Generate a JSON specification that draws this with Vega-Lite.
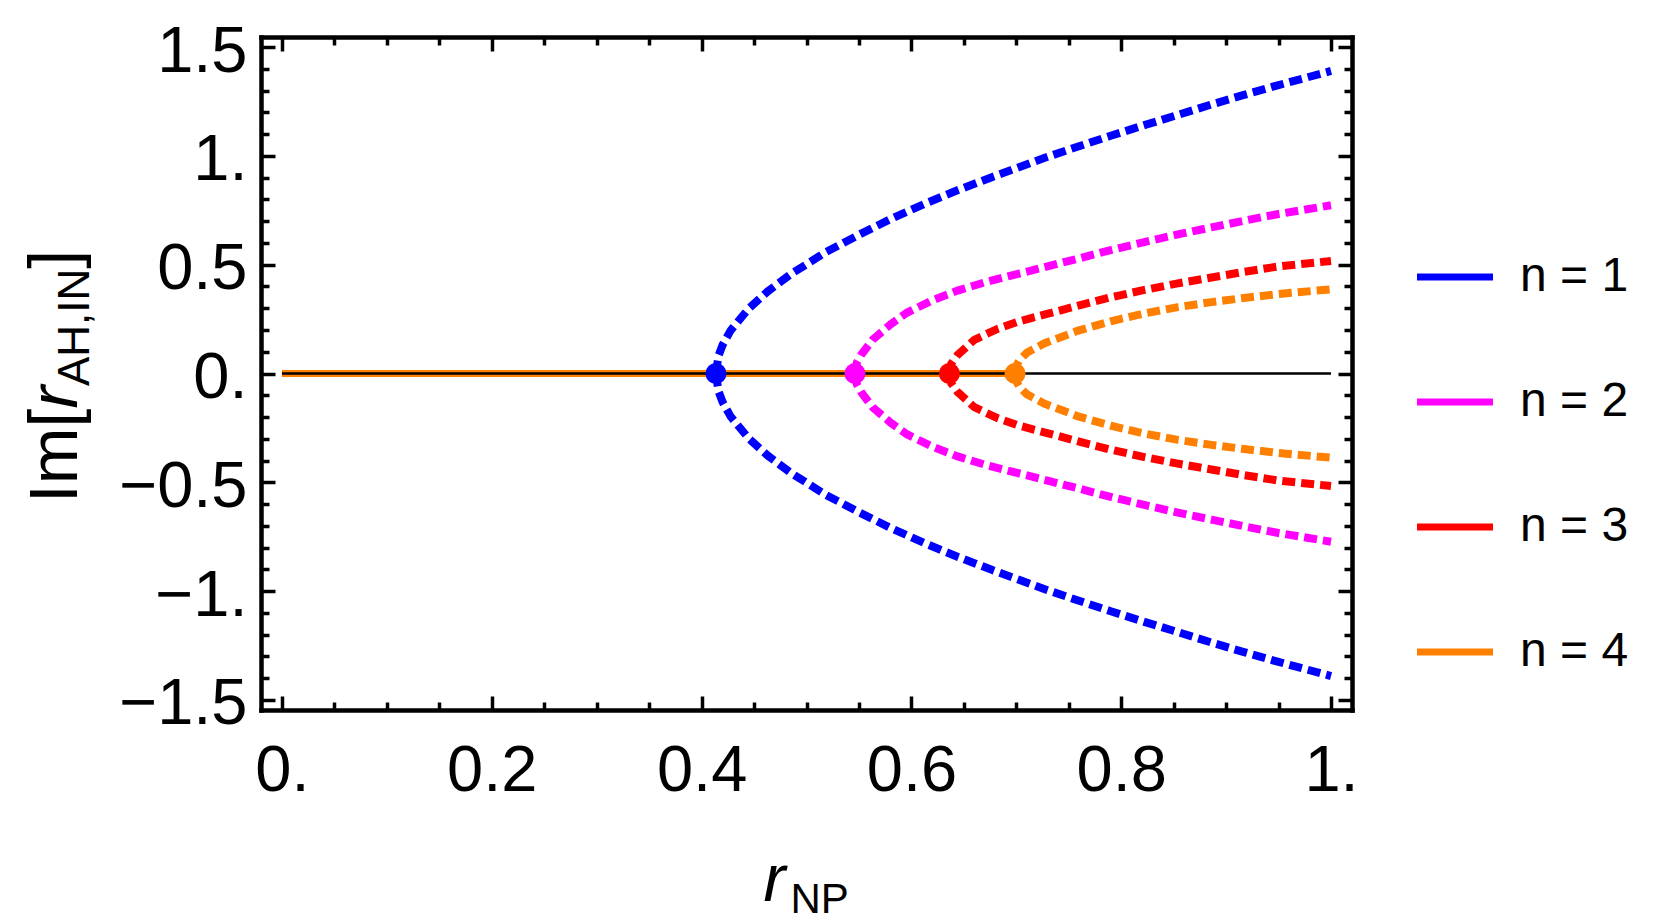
{
  "$schema": "https://vega.github.io/schema/vega-lite/v6.json",
  "width": 1091,
  "height": 673,
  "autosize": {"type": "none"},
  "padding": {"left": 261, "top": 37, "right": 309, "bottom": 212},
  "background": "white",
  "config": {
    "view": {"stroke": null},
    "font": "Liberation Sans",
    "axis": {
      "grid": false,
      "domainColor": "black",
      "domainWidth": 4.5,
      "domainCap": "square",
      "tickColor": "black",
      "tickWidth": 3.5,
      "labelColor": "black",
      "titleColor": "black",
      "labelFont": "Liberation Sans",
      "titleFont": "Liberation Sans",
      "titleFontWeight": "normal",
      "labelOverlap": false,
      "labelFlush": false,
      "labelBound": false
    },
    "legend": {
      "orient": "none",
      "legendX": 1152.5,
      "legendY": 198.5,
      "padding": 0,
      "symbolType": "stroke",
      "symbolSize": 5776,
      "symbolStrokeWidth": 7,
      "symbolDash": [],
      "symbolOpacity": 1,
      "labelFont": "Liberation Sans",
      "labelFontSize": 48,
      "labelColor": "black",
      "labelOffset": 23.5,
      "rowPadding": 59
    }
  },
  "datasets": {
    "curves": [
      {"n": "n = 1", "b": "u", "x": 0.4137, "y": 0},
      {"n": "n = 1", "b": "u", "x": 0.416, "y": 0.08},
      {"n": "n = 1", "b": "u", "x": 0.42, "y": 0.131},
      {"n": "n = 1", "b": "u", "x": 0.4277, "y": 0.198},
      {"n": "n = 1", "b": "u", "x": 0.4449, "y": 0.298},
      {"n": "n = 1", "b": "u", "x": 0.463, "y": 0.377},
      {"n": "n = 1", "b": "u", "x": 0.485, "y": 0.456},
      {"n": "n = 1", "b": "u", "x": 0.5174, "y": 0.555},
      {"n": "n = 1", "b": "u", "x": 0.5499, "y": 0.637},
      {"n": "n = 1", "b": "u", "x": 0.5804, "y": 0.71},
      {"n": "n = 1", "b": "u", "x": 0.612, "y": 0.778},
      {"n": "n = 1", "b": "u", "x": 0.6444, "y": 0.843},
      {"n": "n = 1", "b": "u", "x": 0.676, "y": 0.901},
      {"n": "n = 1", "b": "u", "x": 0.7265, "y": 0.99},
      {"n": "n = 1", "b": "u", "x": 0.759, "y": 1.043},
      {"n": "n = 1", "b": "u", "x": 0.79, "y": 1.092},
      {"n": "n = 1", "b": "u", "x": 0.822, "y": 1.141},
      {"n": "n = 1", "b": "u", "x": 0.854, "y": 1.188},
      {"n": "n = 1", "b": "u", "x": 0.886, "y": 1.236},
      {"n": "n = 1", "b": "u", "x": 0.917, "y": 1.28},
      {"n": "n = 1", "b": "u", "x": 0.95, "y": 1.325},
      {"n": "n = 1", "b": "u", "x": 1.0, "y": 1.39},
      {"n": "n = 1", "b": "l", "x": 0.4137, "y": 0},
      {"n": "n = 1", "b": "l", "x": 0.416, "y": -0.08},
      {"n": "n = 1", "b": "l", "x": 0.42, "y": -0.131},
      {"n": "n = 1", "b": "l", "x": 0.4277, "y": -0.198},
      {"n": "n = 1", "b": "l", "x": 0.4449, "y": -0.298},
      {"n": "n = 1", "b": "l", "x": 0.463, "y": -0.377},
      {"n": "n = 1", "b": "l", "x": 0.485, "y": -0.456},
      {"n": "n = 1", "b": "l", "x": 0.5174, "y": -0.555},
      {"n": "n = 1", "b": "l", "x": 0.5499, "y": -0.637},
      {"n": "n = 1", "b": "l", "x": 0.5804, "y": -0.71},
      {"n": "n = 1", "b": "l", "x": 0.612, "y": -0.778},
      {"n": "n = 1", "b": "l", "x": 0.6444, "y": -0.843},
      {"n": "n = 1", "b": "l", "x": 0.676, "y": -0.901},
      {"n": "n = 1", "b": "l", "x": 0.7265, "y": -0.99},
      {"n": "n = 1", "b": "l", "x": 0.759, "y": -1.043},
      {"n": "n = 1", "b": "l", "x": 0.79, "y": -1.092},
      {"n": "n = 1", "b": "l", "x": 0.822, "y": -1.141},
      {"n": "n = 1", "b": "l", "x": 0.854, "y": -1.188},
      {"n": "n = 1", "b": "l", "x": 0.886, "y": -1.236},
      {"n": "n = 1", "b": "l", "x": 0.917, "y": -1.28},
      {"n": "n = 1", "b": "l", "x": 0.95, "y": -1.325},
      {"n": "n = 1", "b": "l", "x": 1.0, "y": -1.39},
      {"n": "n = 2", "b": "u", "x": 0.5462, "y": 0},
      {"n": "n = 2", "b": "u", "x": 0.548, "y": 0.05},
      {"n": "n = 2", "b": "u", "x": 0.552, "y": 0.085},
      {"n": "n = 2", "b": "u", "x": 0.563, "y": 0.155},
      {"n": "n = 2", "b": "u", "x": 0.58, "y": 0.225},
      {"n": "n = 2", "b": "u", "x": 0.596, "y": 0.28},
      {"n": "n = 2", "b": "u", "x": 0.619, "y": 0.334},
      {"n": "n = 2", "b": "u", "x": 0.644, "y": 0.381},
      {"n": "n = 2", "b": "u", "x": 0.67, "y": 0.419},
      {"n": "n = 2", "b": "u", "x": 0.695, "y": 0.45},
      {"n": "n = 2", "b": "u", "x": 0.7265, "y": 0.488},
      {"n": "n = 2", "b": "u", "x": 0.759, "y": 0.528},
      {"n": "n = 2", "b": "u", "x": 0.79, "y": 0.567},
      {"n": "n = 2", "b": "u", "x": 0.822, "y": 0.604},
      {"n": "n = 2", "b": "u", "x": 0.854, "y": 0.639},
      {"n": "n = 2", "b": "u", "x": 0.886, "y": 0.671},
      {"n": "n = 2", "b": "u", "x": 0.917, "y": 0.702},
      {"n": "n = 2", "b": "u", "x": 0.95, "y": 0.733},
      {"n": "n = 2", "b": "u", "x": 1.0, "y": 0.773},
      {"n": "n = 2", "b": "l", "x": 0.5462, "y": 0},
      {"n": "n = 2", "b": "l", "x": 0.548, "y": -0.05},
      {"n": "n = 2", "b": "l", "x": 0.552, "y": -0.085},
      {"n": "n = 2", "b": "l", "x": 0.563, "y": -0.155},
      {"n": "n = 2", "b": "l", "x": 0.58, "y": -0.225},
      {"n": "n = 2", "b": "l", "x": 0.596, "y": -0.28},
      {"n": "n = 2", "b": "l", "x": 0.619, "y": -0.334},
      {"n": "n = 2", "b": "l", "x": 0.644, "y": -0.381},
      {"n": "n = 2", "b": "l", "x": 0.67, "y": -0.419},
      {"n": "n = 2", "b": "l", "x": 0.695, "y": -0.45},
      {"n": "n = 2", "b": "l", "x": 0.7265, "y": -0.488},
      {"n": "n = 2", "b": "l", "x": 0.759, "y": -0.528},
      {"n": "n = 2", "b": "l", "x": 0.79, "y": -0.567},
      {"n": "n = 2", "b": "l", "x": 0.822, "y": -0.604},
      {"n": "n = 2", "b": "l", "x": 0.854, "y": -0.639},
      {"n": "n = 2", "b": "l", "x": 0.886, "y": -0.671},
      {"n": "n = 2", "b": "l", "x": 0.917, "y": -0.702},
      {"n": "n = 2", "b": "l", "x": 0.95, "y": -0.733},
      {"n": "n = 2", "b": "l", "x": 1.0, "y": -0.773},
      {"n": "n = 3", "b": "u", "x": 0.6362, "y": 0},
      {"n": "n = 3", "b": "u", "x": 0.638, "y": 0.045},
      {"n": "n = 3", "b": "u", "x": 0.644, "y": 0.085},
      {"n": "n = 3", "b": "u", "x": 0.66, "y": 0.155},
      {"n": "n = 3", "b": "u", "x": 0.682, "y": 0.205},
      {"n": "n = 3", "b": "u", "x": 0.703, "y": 0.24},
      {"n": "n = 3", "b": "u", "x": 0.7265, "y": 0.27},
      {"n": "n = 3", "b": "u", "x": 0.759, "y": 0.312},
      {"n": "n = 3", "b": "u", "x": 0.79, "y": 0.35},
      {"n": "n = 3", "b": "u", "x": 0.822, "y": 0.384},
      {"n": "n = 3", "b": "u", "x": 0.854, "y": 0.414},
      {"n": "n = 3", "b": "u", "x": 0.886, "y": 0.441},
      {"n": "n = 3", "b": "u", "x": 0.917, "y": 0.467},
      {"n": "n = 3", "b": "u", "x": 0.95, "y": 0.492},
      {"n": "n = 3", "b": "u", "x": 1.0, "y": 0.517},
      {"n": "n = 3", "b": "l", "x": 0.6362, "y": 0},
      {"n": "n = 3", "b": "l", "x": 0.638, "y": -0.045},
      {"n": "n = 3", "b": "l", "x": 0.644, "y": -0.085},
      {"n": "n = 3", "b": "l", "x": 0.66, "y": -0.155},
      {"n": "n = 3", "b": "l", "x": 0.682, "y": -0.205},
      {"n": "n = 3", "b": "l", "x": 0.703, "y": -0.24},
      {"n": "n = 3", "b": "l", "x": 0.7265, "y": -0.27},
      {"n": "n = 3", "b": "l", "x": 0.759, "y": -0.312},
      {"n": "n = 3", "b": "l", "x": 0.79, "y": -0.35},
      {"n": "n = 3", "b": "l", "x": 0.822, "y": -0.384},
      {"n": "n = 3", "b": "l", "x": 0.854, "y": -0.414},
      {"n": "n = 3", "b": "l", "x": 0.886, "y": -0.441},
      {"n": "n = 3", "b": "l", "x": 0.917, "y": -0.467},
      {"n": "n = 3", "b": "l", "x": 0.95, "y": -0.492},
      {"n": "n = 3", "b": "l", "x": 1.0, "y": -0.517},
      {"n": "n = 4", "b": "u", "x": 0.6988, "y": 0},
      {"n": "n = 4", "b": "u", "x": 0.7005, "y": 0.04},
      {"n": "n = 4", "b": "u", "x": 0.703, "y": 0.062},
      {"n": "n = 4", "b": "u", "x": 0.71, "y": 0.095},
      {"n": "n = 4", "b": "u", "x": 0.7265, "y": 0.138},
      {"n": "n = 4", "b": "u", "x": 0.759, "y": 0.197},
      {"n": "n = 4", "b": "u", "x": 0.79, "y": 0.24},
      {"n": "n = 4", "b": "u", "x": 0.822, "y": 0.276},
      {"n": "n = 4", "b": "u", "x": 0.854, "y": 0.305},
      {"n": "n = 4", "b": "u", "x": 0.886, "y": 0.328},
      {"n": "n = 4", "b": "u", "x": 0.917, "y": 0.347},
      {"n": "n = 4", "b": "u", "x": 0.95, "y": 0.365},
      {"n": "n = 4", "b": "u", "x": 1.0, "y": 0.387},
      {"n": "n = 4", "b": "l", "x": 0.6988, "y": 0},
      {"n": "n = 4", "b": "l", "x": 0.7005, "y": -0.04},
      {"n": "n = 4", "b": "l", "x": 0.703, "y": -0.062},
      {"n": "n = 4", "b": "l", "x": 0.71, "y": -0.095},
      {"n": "n = 4", "b": "l", "x": 0.7265, "y": -0.138},
      {"n": "n = 4", "b": "l", "x": 0.759, "y": -0.197},
      {"n": "n = 4", "b": "l", "x": 0.79, "y": -0.24},
      {"n": "n = 4", "b": "l", "x": 0.822, "y": -0.276},
      {"n": "n = 4", "b": "l", "x": 0.854, "y": -0.305},
      {"n": "n = 4", "b": "l", "x": 0.886, "y": -0.328},
      {"n": "n = 4", "b": "l", "x": 0.917, "y": -0.347},
      {"n": "n = 4", "b": "l", "x": 0.95, "y": -0.365},
      {"n": "n = 4", "b": "l", "x": 1.0, "y": -0.387}
    ],
    "solid": [
      {"n": "n = 1", "x": 0, "y": 0},
      {"n": "n = 1", "x": 0.4137, "y": 0},
      {"n": "n = 2", "x": 0, "y": 0},
      {"n": "n = 2", "x": 0.5462, "y": 0},
      {"n": "n = 3", "x": 0, "y": 0},
      {"n": "n = 3", "x": 0.6362, "y": 0},
      {"n": "n = 4", "x": 0, "y": 0},
      {"n": "n = 4", "x": 0.6988, "y": 0}
    ],
    "zero": [
      {"x": 0, "y": 0},
      {"x": 1, "y": 0}
    ],
    "points": [
      {"n": "n = 1", "x": 0.4137, "y": 0},
      {"n": "n = 2", "x": 0.5462, "y": 0},
      {"n": "n = 3", "x": 0.6362, "y": 0},
      {"n": "n = 4", "x": 0.6988, "y": 0}
    ]
  },
  "resolve": {"axis": {"x": "independent", "y": "independent"}},
  "layer": [
    {
      "data": {"name": "curves"},
      "mark": {"type": "line", "strokeWidth": 8, "strokeDash": [13, 6], "strokeCap": "butt"},
      "encoding": {
        "x": {
          "field": "x", "type": "quantitative",
          "scale": {"domain": [-0.02, 1.02], "nice": false, "zero": false},
          "axis": {
            "orient": "bottom",
            "values": [0, 0.05, 0.1, 0.15, 0.2, 0.25, 0.3, 0.35, 0.4, 0.45, 0.5, 0.55, 0.6, 0.65, 0.7, 0.75, 0.8, 0.85, 0.9, 0.95, 1],
            "labelExpr": "abs(datum.value*5-round(datum.value*5))>0.001 ? '' : (abs(datum.value-round(datum.value))<0.001 ? format(datum.value,'.0f')+'.' : format(datum.value,'.1f'))",
            "labelFontSize": 65,
            "labelAlign": "center",
            "labelBaseline": "alphabetic",
            "labelPadding": 94,
            "tickSize": {"condition": {"test": "abs(datum.value*5-round(datum.value*5))<0.001", "value": -14}, "value": -8},
            "title": "r",
            "titleFontStyle": "italic",
            "titleFontSize": 66,
            "titleAngle": 0,
            "titleAlign": "left",
            "titleBaseline": "alphabetic",
            "titleX": 502,
            "titleY": 190
          }
        },
        "y": {
          "field": "y", "type": "quantitative",
          "scale": {"domain": [-1.546, 1.546], "nice": false, "zero": false},
          "axis": {
            "orient": "left",
            "values": [-1.5, -1.4, -1.3, -1.2, -1.1, -1, -0.9, -0.8, -0.7, -0.6, -0.5, -0.4, -0.3, -0.2, -0.1, 0, 0.1, 0.2, 0.3, 0.4, 0.5, 0.6, 0.7, 0.8, 0.9, 1, 1.1, 1.2, 1.3, 1.4, 1.5],
            "labelExpr": "abs(datum.value*2-round(datum.value*2))>0.001 ? '' : (abs(datum.value-round(datum.value))<0.001 ? format(datum.value,'.0f')+'.' : format(datum.value,'.1f'))",
            "labelFontSize": 65,
            "labelAlign": "right",
            "labelBaseline": "middle",
            "labelPadding": 28,
            "labelOffset": 4,
            "tickSize": {"condition": {"test": "abs(datum.value*2-round(datum.value*2))<0.001", "value": -14}, "value": -8},
            "title": "Im[",
            "titleFontSize": 68,
            "titleAngle": 270,
            "titleAlign": "left",
            "titleBaseline": "alphabetic",
            "titleX": -185,
            "titleY": 465.6
          }
        },
        "color": {
          "field": "n", "type": "nominal",
          "scale": {"domain": ["n = 1", "n = 2", "n = 3", "n = 4"], "range": ["#0000ff", "#ff00ff", "#ff0000", "#ff8000"]},
          "legend": {"title": null, "symbolType": "stroke", "symbolDash": [], "symbolStrokeWidth": 7}
        },
        "detail": {"field": "b", "type": "nominal"}
      }
    },
    {
      "data": {"name": "solid"},
      "mark": {"type": "line", "strokeWidth": 7},
      "encoding": {
        "x": {
          "field": "x", "type": "quantitative",
          "scale": {"domain": [-0.02, 1.02], "nice": false, "zero": false},
          "axis": {
            "orient": "top",
            "values": [0, 0.05, 0.1, 0.15, 0.2, 0.25, 0.3, 0.35, 0.4, 0.45, 0.5, 0.55, 0.6, 0.65, 0.7, 0.75, 0.8, 0.85, 0.9, 0.95, 1],
            "labels": false,
            "tickSize": {"condition": {"test": "abs(datum.value*5-round(datum.value*5))<0.001", "value": -14}, "value": -8},
            "title": "NP",
            "titleFontSize": 42,
            "titleAngle": 0,
            "titleAlign": "left",
            "titleBaseline": "alphabetic",
            "titleX": 529,
            "titleY": 875
          }
        },
        "y": {
          "field": "y", "type": "quantitative",
          "scale": {"domain": [-1.546, 1.546], "nice": false, "zero": false},
          "axis": {
            "orient": "right",
            "values": [-1.5, -1.4, -1.3, -1.2, -1.1, -1, -0.9, -0.8, -0.7, -0.6, -0.5, -0.4, -0.3, -0.2, -0.1, 0, 0.1, 0.2, 0.3, 0.4, 0.5, 0.6, 0.7, 0.8, 0.9, 1, 1.1, 1.2, 1.3, 1.4, 1.5],
            "labels": false,
            "tickSize": {"condition": {"test": "abs(datum.value*2-round(datum.value*2))<0.001", "value": -14}, "value": -8},
            "title": "r",
            "titleFontStyle": "italic",
            "titleFontSize": 68,
            "titleAngle": 270,
            "titleAlign": "left",
            "titleBaseline": "alphabetic",
            "titleX": -1276,
            "titleY": 371
          }
        },
        "color": {
          "field": "n", "type": "nominal",
          "scale": {"domain": ["n = 1", "n = 2", "n = 3", "n = 4"], "range": ["#0000ff", "#ff00ff", "#ff0000", "#ff8000"]},
          "legend": {"title": null, "symbolType": "stroke", "symbolDash": [], "symbolStrokeWidth": 7}
        }
      }
    },
    {
      "data": {"name": "zero"},
      "mark": {"type": "line", "strokeWidth": 2.5, "color": "black"},
      "encoding": {
        "x": {
          "field": "x", "type": "quantitative",
          "scale": {"domain": [-0.02, 1.02], "nice": false, "zero": false},
          "axis": null
        },
        "y": {
          "field": "y", "type": "quantitative",
          "scale": {"domain": [-1.546, 1.546], "nice": false, "zero": false},
          "axis": {
            "orient": "left",
            "domain": false,
            "ticks": false,
            "labels": false,
            "title": "AH,IN",
            "titleFontSize": 44,
            "titleAngle": 270,
            "titleAlign": "left",
            "titleBaseline": "alphabetic",
            "titleX": -173,
            "titleY": 348.5
          }
        }
      }
    },
    {
      "data": {"name": "points"},
      "mark": {"type": "point", "shape": "circle", "filled": true, "size": 441, "opacity": 1},
      "encoding": {
        "x": {
          "field": "x", "type": "quantitative",
          "scale": {"domain": [-0.02, 1.02], "nice": false, "zero": false},
          "axis": null
        },
        "y": {
          "field": "y", "type": "quantitative",
          "scale": {"domain": [-1.546, 1.546], "nice": false, "zero": false},
          "axis": {
            "orient": "left",
            "domain": false,
            "ticks": false,
            "labels": false,
            "title": "]",
            "titleFontSize": 68,
            "titleAngle": 270,
            "titleAlign": "left",
            "titleBaseline": "alphabetic",
            "titleX": -185,
            "titleY": 231.2
          }
        },
        "color": {
          "field": "n", "type": "nominal",
          "scale": {"domain": ["n = 1", "n = 2", "n = 3", "n = 4"], "range": ["#0000ff", "#ff00ff", "#ff0000", "#ff8000"]},
          "legend": {"title": null, "symbolType": "stroke", "symbolDash": [], "symbolStrokeWidth": 7}
        }
      }
    }
  ]
}
